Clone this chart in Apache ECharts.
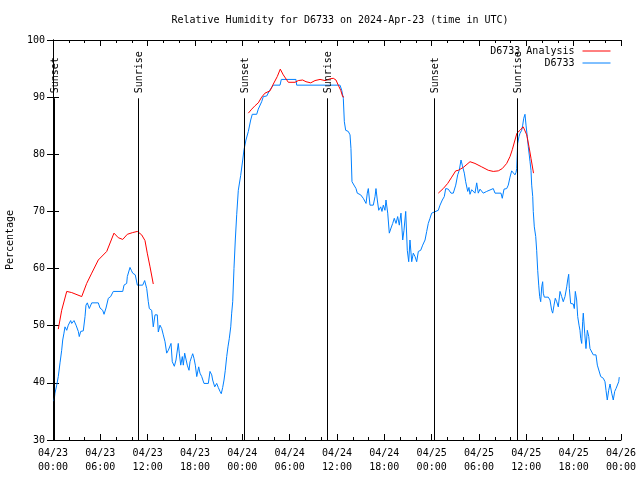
<!DOCTYPE html>
<html>
<head>
<meta charset="utf-8">
<script src="https://cdn.jsdelivr.net/npm/echarts@6/dist/echarts.min.js"></script>
<style>html,body{margin:0;padding:0;background:#fff}#c{width:640px;height:480px}</style>
</head>
<body>
<div id="c"></div>
<script>
// Hours since 2024-04-23 00:00 UTC, relative humidity (%)
const observed = [
[0.13,36.8],[0.25,38.2],[0.47,39.6],[0.67,41.1],[0.89,43.5],[1.10,45.7],[1.23,47.5],[1.39,48.7],[1.52,49.8],
[1.74,49.2],[1.94,50.1],[2.24,50.9],[2.37,50.4],[2.66,50.9],[2.92,50.1],[3.21,49.0],[3.33,48.1],[3.51,49.0],
[3.84,49.1],[4.06,51.6],[4.18,53.6],[4.35,54.0],[4.60,53.0],[4.91,54.0],[5.74,54.0],[5.96,53.1],[6.30,52.7],
[6.47,52.0],[6.72,53.1],[7.01,54.8],[7.31,55.1],[7.64,56.0],[8.84,56.0],[9.00,57.1],[9.34,57.4],[9.42,58.6],
[9.76,60.2],[9.93,59.7],[10.10,59.2],[10.43,58.9],[10.69,57.1],[11.37,57.1],[11.62,57.9],[11.88,56.5],[12.08,54.2],
[12.21,53.0],[12.51,52.7],[12.71,49.8],[12.93,51.9],[13.22,51.9],[13.35,48.9],[13.56,50.1],[13.78,49.5],[13.98,48.4],
[14.20,47.2],[14.41,45.2],[14.62,45.7],[14.96,46.9],[15.12,43.7],[15.38,42.9],[15.59,44.0],[15.88,46.9],[16.01,45.2],
[16.19,43.1],[16.39,44.6],[16.52,43.1],[16.69,45.2],[16.86,44.9],[17.02,43.1],[17.24,42.2],[17.37,43.7],[17.58,44.6],
[17.71,45.1],[17.87,44.3],[18.04,43.1],[18.22,41.1],[18.47,42.8],[18.63,41.7],[18.85,41.1],[19.05,40.8],[19.14,39.9],
[19.69,39.9],[19.90,42.0],[20.12,41.4],[20.24,40.5],[20.50,39.3],[20.75,39.9],[20.95,39.2],[21.17,38.5],[21.33,38.1],
[21.51,39.2],[21.68,40.5],[21.84,42.2],[22.02,44.6],[22.18,46.3],[22.35,47.8],[22.53,49.8],[22.65,52.2],[22.78,54.2],
[22.94,60.0],[23.11,65.0],[23.29,69.5],[23.49,73.7],[23.79,76.3],[24.05,79.0],[24.21,80.8],[24.46,82.5],[24.76,84.0],
[25.06,86.0],[25.26,87.0],[25.82,87.0],[26.02,87.9],[26.24,88.0],[26.45,89.2],[26.66,90.1],[27.09,90.2],[27.42,91.1],
[27.93,92.1],[28.78,92.1],[28.94,93.1],[30.80,93.1],[30.89,92.1],[36.38,92.1],[36.60,91.2],[36.80,89.8],[36.93,85.7],
[37.10,84.2],[37.43,84.0],[37.65,83.4],[37.77,81.0],[37.90,75.2],[38.15,74.9],[38.41,74.0],[38.57,73.2],[39.00,72.9],
[39.33,72.3],[39.68,71.4],[39.84,73.2],[39.97,74.0],[40.18,71.1],[40.60,71.1],[40.82,72.6],[40.94,74.0],[41.11,72.0],
[41.29,70.2],[41.54,70.8],[41.70,70.0],[41.87,71.1],[42.08,70.2],[42.21,72.0],[42.43,69.7],[42.63,66.2],[42.85,67.1],
[43.06,67.9],[43.26,68.8],[43.48,67.9],[43.69,69.1],[43.90,67.6],[44.11,69.7],[44.33,65.0],[44.49,66.7],[44.71,70.0],
[44.91,63.2],[45.09,61.2],[45.25,65.0],[45.47,61.2],[45.67,62.7],[45.89,62.1],[46.10,61.2],[46.31,63.0],[46.61,63.2],
[46.86,64.1],[47.16,65.0],[47.37,66.5],[47.57,67.9],[47.79,68.8],[48.00,69.7],[48.21,70.0],[48.84,70.2],[49.06,71.1],
[49.35,72.0],[49.60,72.6],[49.78,74.0],[50.11,73.9],[50.45,73.2],[50.74,73.2],[51.05,74.6],[51.30,76.4],[51.50,77.2],
[51.72,79.0],[51.88,78.1],[52.14,76.7],[52.31,75.2],[52.57,73.5],[52.73,74.2],[52.86,73.0],[53.07,73.8],[53.28,73.8],
[53.49,73.2],[53.71,75.0],[53.91,73.2],[54.13,73.9],[54.34,73.9],[54.54,73.2],[54.97,73.5],[55.18,73.2],[55.81,74.0],
[56.03,73.2],[56.79,73.2],[56.95,72.3],[57.17,73.9],[57.51,74.0],[57.71,74.6],[57.93,76.0],[58.14,77.1],[58.35,77.0],
[58.56,76.4],[58.69,76.8],[58.78,77.5],[58.90,81.9],[59.07,83.1],[59.20,83.7],[59.41,84.2],[59.54,85.1],[59.67,86.3],
[59.83,87.0],[59.96,85.1],[60.12,83.1],[60.25,81.3],[60.47,78.7],[60.59,77.2],[60.68,74.6],[60.81,72.6],[60.88,70.0],
[61.01,67.3],[61.19,65.6],[61.31,63.2],[61.44,59.7],[61.57,57.1],[61.69,55.1],[61.82,54.2],[61.95,56.8],[62.07,57.7],
[62.15,55.7],[62.28,55.0],[62.78,55.0],[63.00,54.5],[63.21,52.7],[63.34,52.2],[63.51,53.6],[63.67,54.8],[63.85,54.2],
[64.05,53.3],[64.27,56.0],[64.48,55.1],[64.68,54.2],[64.90,55.1],[65.12,56.8],[65.24,58.0],[65.37,59.0],[65.45,56.5],
[65.62,53.9],[65.95,53.8],[66.08,53.0],[66.21,56.0],[66.38,54.5],[66.51,51.6],[66.68,50.1],[66.80,49.2],[66.89,47.8],
[67.02,46.9],[67.14,50.7],[67.22,52.2],[67.40,48.7],[67.56,46.0],[67.73,49.2],[67.91,48.1],[68.07,46.0],[68.29,46.0],
[68.49,44.9],[68.83,44.9],[69.00,43.1],[69.25,42.8],[69.43,41.1],[69.76,40.8],[69.97,40.2],[70.10,38.7],[70.26,37.0],
[70.44,38.7],[70.61,39.8],[70.82,38.2],[71.02,37.0],[71.20,38.5],[71.37,39.0],[71.53,39.2],[71.71,40.2],[71.78,41.0]
];
const analysisNight1 = [
[0.67,49.4],[1.10,52.7],[1.74,56.0],[2.37,55.8],[3.64,55.1],[4.27,57.4],[4.91,59.2],[5.74,61.5],[6.81,63.0],
[7.73,66.2],[8.28,65.4],[8.84,65.1],[9.42,66.0],[10.10,66.3],[10.69,66.5],[11.24,65.9],[11.66,64.9],[11.95,62.7],
[12.30,60.3],[12.71,57.3]
];
const analysisNight2 = [
[24.76,87.2],[25.19,87.9],[25.61,88.5],[26.02,89.0],[26.45,90.0],[26.87,90.7],[27.51,91.1],[27.93,92.3],[28.43,93.6],
[28.81,94.9],[29.19,93.9],[29.83,92.6],[30.68,92.6],[31.09,92.9],[31.65,93.0],[32.07,92.7],[32.67,92.5],[33.21,92.9],
[33.85,93.1],[34.48,92.9],[35.11,93.2],[35.53,93.3],[35.87,93.0],[36.16,92.1],[36.47,91.2],[36.72,90.1],[36.89,90.0]
];
const analysisNight3 = [
[48.84,73.2],[49.47,74.0],[50.03,74.9],[50.54,76.0],[51.05,77.1],[51.38,77.2],[52.01,77.7],[52.86,78.7],[53.49,78.4],
[54.34,77.8],[55.18,77.2],[55.81,77.0],[56.45,77.1],[56.95,77.5],[57.51,78.4],[57.93,79.6],[58.22,80.8],[58.56,82.5],
[58.81,83.7],[59.20,84.2],[59.61,84.8],[59.83,85.1],[60.05,83.4],[60.34,81.3],[60.59,79.3],[60.91,76.7]
];
const sunEventHours = [0.17, 10.82, 24.21, 34.77, 48.33, 58.86];
const sunEventLabels = ['Sunset', 'Sunrise', 'Sunset', 'Sunrise', 'Sunset', 'Sunrise'];
const xTickLabels = ['04/23\n00:00','04/23\n06:00','04/23\n12:00','04/23\n18:00','04/24\n00:00','04/24\n06:00',
  '04/24\n12:00','04/24\n18:00','04/25\n00:00','04/25\n06:00','04/25\n12:00','04/25\n18:00','04/26\n00:00'];

const FONT = '"DejaVu Sans Mono", monospace';
const chart = echarts.init(document.getElementById('c'), null, {renderer: 'canvas'});
const axisCommon = {
  axisLine: {show: true, lineStyle: {color: '#000', width: 1}},
  splitLine: {show: false},
};
const analysisStyle = {
  type: 'line', name: 'D6733 Analysis', symbol: 'none', showSymbol: false,
  lineStyle: {color: '#ff0000', width: 1}, itemStyle: {color: '#ff0000'}, animation: false, z: 3
};
chart.setOption({
  animation: false,
  backgroundColor: '#fff',
  title: {
    text: 'Relative Humidity for D6733 on 2024-Apr-23 (time in UTC)',
    left: 335, top: 10, textAlign: 'center',
    textStyle: {fontFamily: FONT, fontSize: 10, fontWeight: 'normal', color: '#000'}
  },
  legend: {
    data: ['D6733 Analysis', 'D6733'],
    orient: 'vertical', align: 'right', right: 24, top: 41,
    itemWidth: 28, itemHeight: 10, itemGap: 2,
    itemStyle: {opacity: 0},
    lineStyle: {width: 1},
    textStyle: {fontFamily: FONT, fontSize: 10, color: '#000', padding: [0, 3, 0, 0]},
    selectedMode: false
  },
  grid: {left: 53, right: 19, top: 40, bottom: 40, containLabel: false, outerBoundsMode: 'none'},
  xAxis: [
    Object.assign({
      type: 'value', min: 0, max: 72, interval: 6, position: 'bottom',
      axisTick: {show: true, inside: true, length: 6, lineStyle: {color: '#000'}},
      minorTick: {show: true, splitNumber: 3, length: 3, lineStyle: {color: '#000'}},
      axisLabel: {
        margin: 6, lineHeight: 14, fontFamily: FONT, fontSize: 10, color: '#000',
        formatter: v => xTickLabels[Math.round(v / 6)] || ''
      }
    }, axisCommon),
    Object.assign({
      type: 'value', min: 0, max: 72, interval: 6, position: 'top',
      axisTick: {show: true, inside: true, length: 6, lineStyle: {color: '#000'}},
      minorTick: {show: true, splitNumber: 3, length: 3, lineStyle: {color: '#000'}},
      axisLabel: {show: false}
    }, axisCommon)
  ],
  yAxis: [
    Object.assign({
      type: 'value', min: 30, max: 100, interval: 10, position: 'left',
      name: 'Percentage', nameLocation: 'middle', nameGap: 38, nameRotate: 90,
      nameTextStyle: {fontFamily: FONT, fontSize: 10, color: '#000'},
      axisTick: {show: true, inside: true, length: 6, lineStyle: {color: '#000'}},
      axisLabel: {margin: 8, fontFamily: FONT, fontSize: 10, color: '#000'}
    }, axisCommon),
    Object.assign({
      type: 'value', min: 30, max: 100, interval: 10, position: 'right',
      axisTick: {show: true, inside: true, length: 6, lineStyle: {color: '#000'}},
      axisLabel: {show: false}
    }, axisCommon)
  ],
  series: [
    Object.assign({data: analysisNight1}, analysisStyle),
    Object.assign({data: analysisNight2}, analysisStyle),
    Object.assign({data: analysisNight3}, analysisStyle),
    {
      type: 'line', name: 'D6733', data: observed, symbol: 'none', showSymbol: false,
      lineStyle: {color: '#0080ff', width: 1}, itemStyle: {color: '#0080ff'}, z: 2
    },
    {
      type: 'custom', name: 'sun', clip: false, z: 4,
      data: sunEventHours.map(h => [h, 30]),
      encode: {x: 0, y: 1},
      renderItem: function (params, api) {
        const h = api.value(0);
        const p0 = api.coord([h, 30]);
        const p1 = api.coord([h, 89.8]);
        const px = Math.round(p0[0]) + 0.5;
        return {
          type: 'group',
          children: [
            {type: 'line', shape: {x1: px, y1: p0[1], x2: px, y2: p1[1]},
             style: {stroke: '#000', lineWidth: 1}},
            {type: 'text', x: px + 1, y: p1[1] - 5, rotation: Math.PI / 2,
             style: {text: sunEventLabels[params.dataIndex], fill: '#000',
                     font: '10px ' + FONT, align: 'left', verticalAlign: 'middle'}}
          ]
        };
      }
    }
  ]
});
</script>
</body>
</html>
